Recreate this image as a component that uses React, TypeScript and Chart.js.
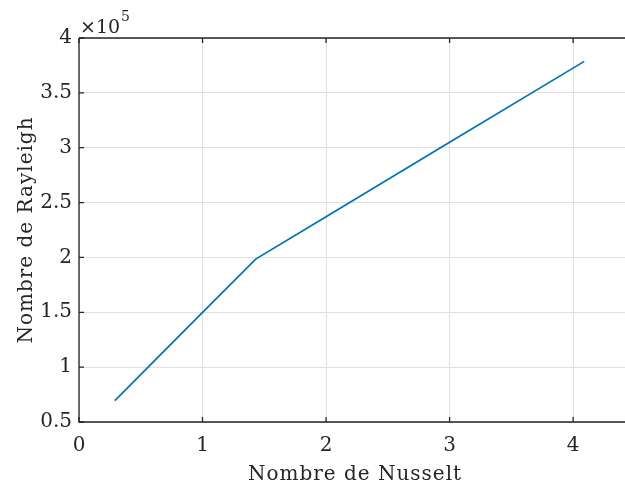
import React, { useEffect, useRef } from "react";
import { Chart, registerables } from "chart.js";

Chart.register(...registerables);

const nusselt = [0.29, 1.0, 1.43, 2.0, 3.0, 4.09];
const rayleigh = [0.694, 1.5, 1.985, 2.37, 3.05, 3.787];
const xTicks = [0, 1, 2, 3, 4];
const yTicks = [0.5, 1, 1.5, 2, 2.5, 3, 3.5, 4];
const xTitle = "Nombre de Nusselt";
const yTitle = "Nombre de Rayleigh";
const FONT = "'DejaVu Serif', 'Liberation Serif', serif";
const AXIS = "#262626";

const boxPlugin = {
  id: "matlabBox",
  afterDraw(chart: any) {
    const { ctx, chartArea: a, scales } = chart;
    ctx.save();
    ctx.strokeStyle = AXIS;
    ctx.lineWidth = 1.3;
    ctx.beginPath();
    ctx.moveTo(a.left, a.top);
    ctx.lineTo(a.right, a.top);
    ctx.moveTo(a.left, a.top);
    ctx.lineTo(a.left, a.bottom);
    ctx.lineTo(a.right, a.bottom);
    ctx.stroke();
    ctx.beginPath();
    for (const t of xTicks) {
      const px = scales.x.getPixelForValue(t);
      ctx.moveTo(px, a.bottom);
      ctx.lineTo(px, a.bottom - 5);
      ctx.moveTo(px, a.top);
      ctx.lineTo(px, a.top + 5);
    }
    for (const t of yTicks) {
      const py = scales.y.getPixelForValue(t);
      ctx.moveTo(a.left, py);
      ctx.lineTo(a.left + 5, py);
    }
    ctx.stroke();

    ctx.fillStyle = AXIS;
    ctx.textBaseline = "alphabetic";
    ctx.textAlign = "left";
    ctx.font = `19px ${FONT}`;
    const base = "\u00d710";
    ctx.fillText(base, a.left + 1, a.top - 5);
    const w = ctx.measureText(base).width;
    ctx.font = `14px ${FONT}`;
    ctx.fillText("5", a.left + 2 + w, a.top - 17);

    // axis titles
    ctx.font = `20px ${FONT}`;
    (ctx as any).letterSpacing = "1px";
    ctx.textAlign = "center";
    const cx = (a.left + 625) / 2 + 3;
    ctx.fillText(xTitle, cx, 480);
    ctx.translate(32, (a.top + a.bottom) / 2);
    ctx.rotate(-Math.PI / 2);
    ctx.fillText(yTitle, 0, 0);
    ctx.restore();
  },
};

export default function App() {
  const ref = useRef<HTMLCanvasElement>(null);
  useEffect(() => {
    document.body.style.margin = "0";
    const chart = new Chart(ref.current!, {
      type: "line",
      data: {
        datasets: [
          {
            data: nusselt.map((x, i) => ({ x, y: rayleigh[i] })),
            borderColor: "#0072BD",
            borderWidth: 1.7,
            pointRadius: 0,
            tension: 0,
            fill: false,
          },
        ],
      },
      options: {
        animation: false,
        responsive: false,
        maintainAspectRatio: false,
        layout: { padding: { top: 38, right: 0, left: 0, bottom: 0 } },
        plugins: { legend: { display: false }, tooltip: { enabled: false } },
        scales: {
          x: {
            type: "linear",
            min: 0,
            max: 4.42,
            afterBuildTicks: (s: any) => {
              s.ticks = xTicks.map((v) => ({ value: v }));
            },
            afterFit: (s: any) => {
              s.height = 64;
            },
            border: { display: false },
            grid: { color: "#e0e0e0", lineWidth: 1, drawTicks: false },
            ticks: {
              color: AXIS,
              font: { family: FONT, size: 20 },
              padding: 12,
              maxRotation: 0,
              autoSkip: false,
            },
            title: { display: false },
          },
          y: {
            type: "linear",
            min: 0.5,
            max: 4,
            afterBuildTicks: (s: any) => {
              s.ticks = yTicks.map((v) => ({ value: v }));
            },
            afterFit: (s: any) => {
              s.width = 79;
            },
            border: { display: false },
            grid: { color: "#e0e0e0", lineWidth: 1, drawTicks: false },
            ticks: {
              color: AXIS,
              font: { family: FONT, size: 20 },
              padding: 7,
              autoSkip: false,
              callback: (v: any) => String(v),
            },
            title: { display: false },
          },
        },
      },
      plugins: [boxPlugin],
    } as any);
    return () => chart.destroy();
  }, []);
  return (
    <div style={{ width: 625, height: 486, background: "#fff" }}>
      <canvas ref={ref} width={625} height={486} />
    </div>
  );
}
